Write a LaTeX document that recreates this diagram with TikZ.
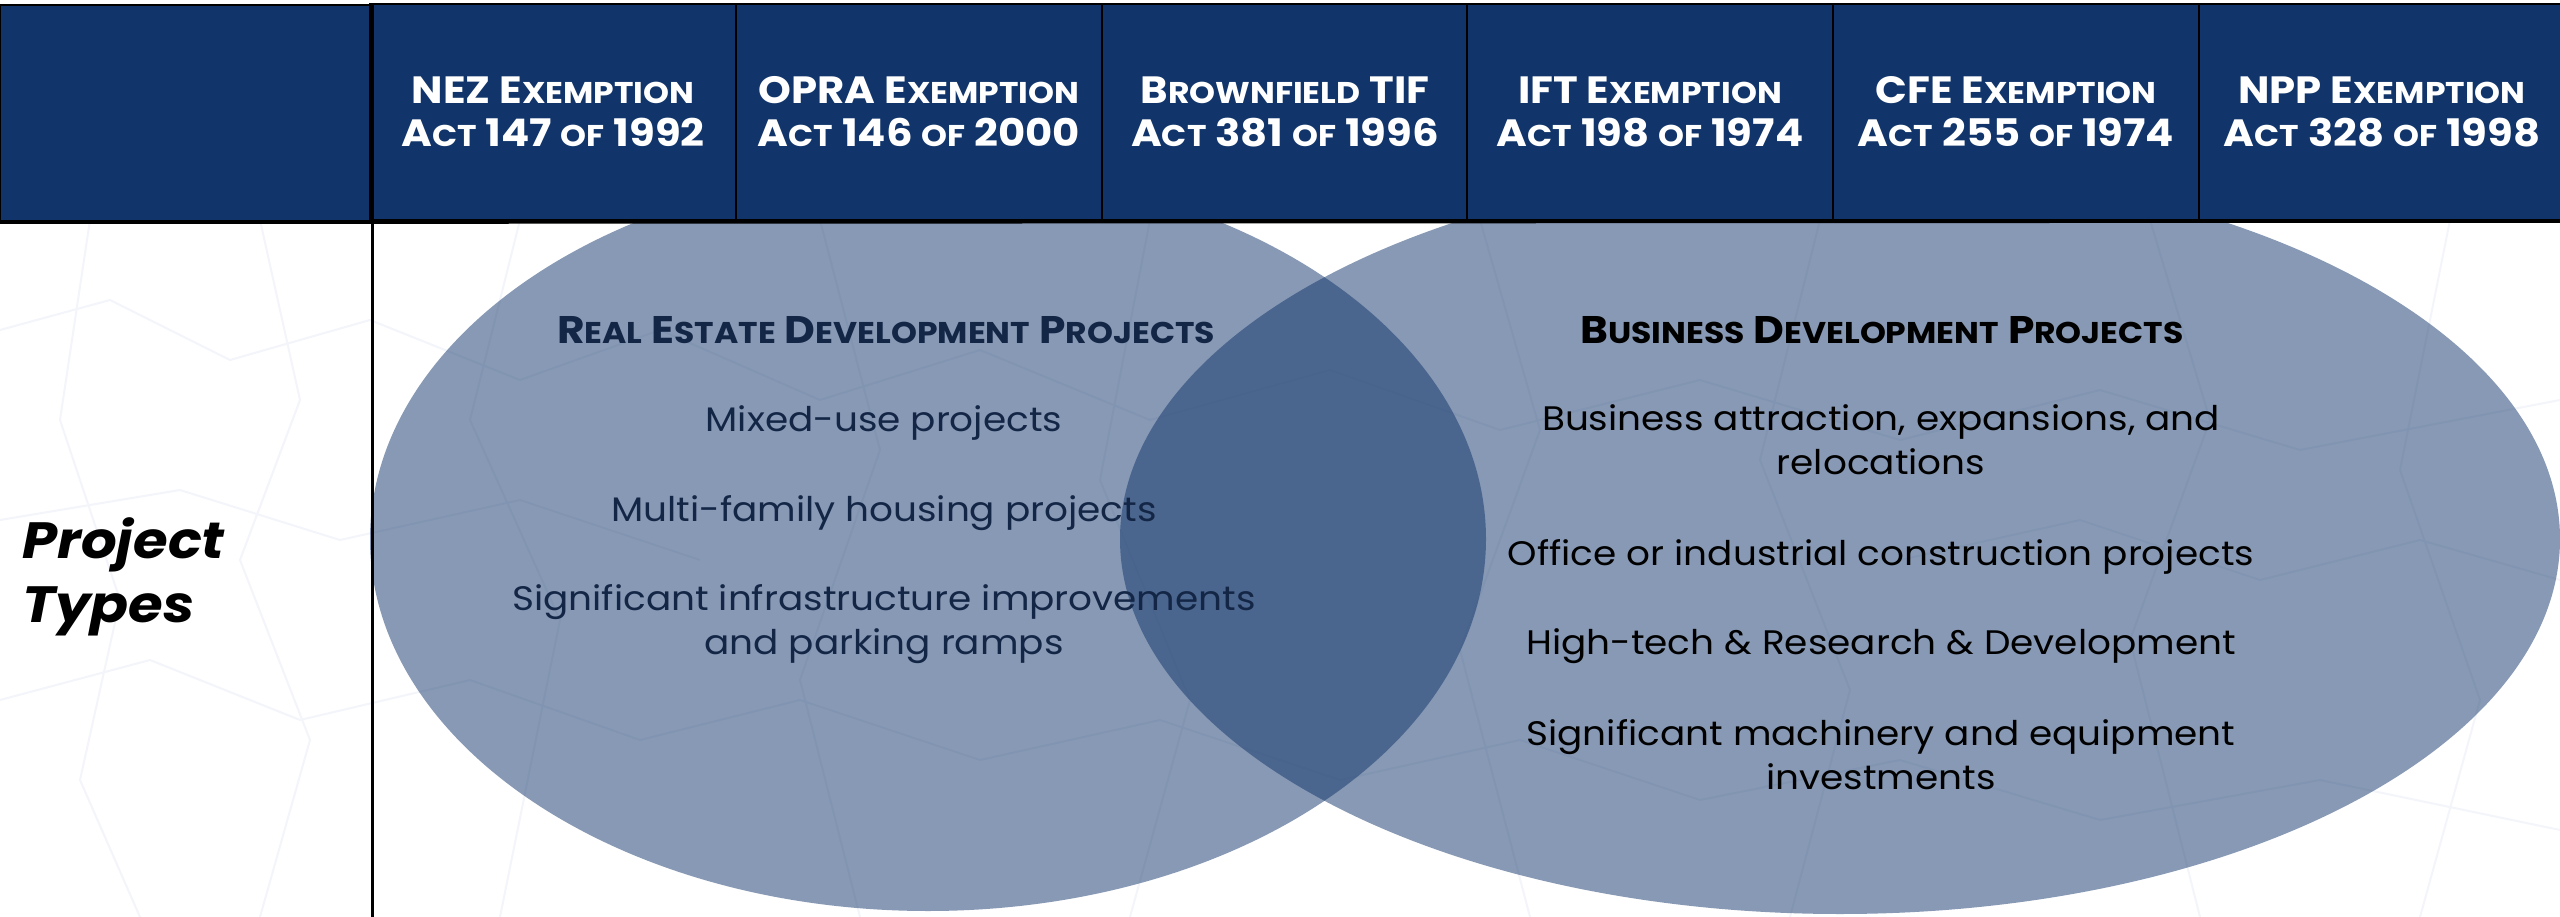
\documentclass[tikz,border=0pt]{standalone}
\usepackage{fontspec}
\setmainfont{Poppins}[FakeStretch=1.1]
\usetikzlibrary{shapes.geometric}
\definecolor{navy}{RGB}{17,53,106}
\definecolor{deepslate}{RGB}{20,38,70}
\definecolor{mapline}{RGB}{243,245,250}
% reduced capitals for the small-caps look
\newcommand{\hs}[1]{{\fontsize{30}{30}\selectfont #1}}
\newcommand{\ts}[1]{{\fontsize{30}{30}\selectfont #1}}

\begin{document}
\begin{tikzpicture}[x=1pt,y=-1pt,
  hcell/.style={draw=black, line width=2.5pt, fill=navy, text=white,
    minimum width=366pt, minimum height=216pt, inner sep=0pt, align=center,
    font=\bfseries\fontsize{38}{43}\selectfont},
  venn/.style={ellipse, fill=navy, fill opacity=0.5, inner sep=0pt},
  item/.style={align=center, font=\fontsize{34}{44}\selectfont},
  vtitle/.style={align=center, font=\bfseries\fontsize{38.5}{38.5}\selectfont},
  rule/.style={draw=black, line width=3pt},
  faint/.style={draw=mapline, line width=2pt, line join=round},
]
\useasboundingbox (0,0) rectangle (2560,917);
\fill[white] (0,0) rectangle (2560,917);

% faint street-map texture in the background
\draw[faint] (0,330) -- (110,300) -- (230,360) -- (370,320) -- (520,380) -- (660,330) -- (820,400) -- (980,350) -- (1150,420) -- (1330,370) -- (1500,430) -- (1700,380) -- (1900,440) -- (2100,390) -- (2300,450) -- (2560,400);
\draw[faint] (0,700) -- (150,660) -- (300,720) -- (470,680) -- (640,740) -- (800,700) -- (980,760) -- (1160,720) -- (1340,780) -- (1520,740) -- (1700,800) -- (1900,760) -- (2100,820) -- (2320,780) -- (2560,830);
\draw[faint] (90,220) -- (60,420) -- (120,600) -- (80,780) -- (140,917);
\draw[faint] (260,220) -- (300,400) -- (240,560) -- (310,740) -- (260,917);
\draw[faint] (520,220) -- (470,420) -- (560,620) -- (500,917);
\draw[faint] (820,220) -- (880,450) -- (800,680) -- (860,917);
\draw[faint] (1150,220) -- (1100,480) -- (1190,700) -- (1130,917);
\draw[faint] (1480,220) -- (1540,430) -- (1460,650) -- (1530,917);
\draw[faint] (1820,220) -- (1760,460) -- (1850,690) -- (1790,917);
\draw[faint] (2150,220) -- (2210,420) -- (2130,640) -- (2200,917);
\draw[faint] (2450,220) -- (2400,470) -- (2480,700) -- (2420,917);
\draw[faint] (0,520) -- (180,490) -- (340,540) -- (520,500) -- (700,560);
\draw[faint] (1900,560) -- (2080,520) -- (2260,580) -- (2420,540) -- (2560,580);

% overlapping project-type ellipses
\node[venn, minimum width=1116pt, minimum height=744pt] (realestate) at (928,539) {};
\node[venn, minimum width=1440pt, minimum height=750pt] (business) at (1840,539) {};

% real estate development projects
\node[vtitle, text=deepslate] (retitle) at (886,330) {R\ts{EAL} E\ts{STATE} D\ts{EVELOPMENT} P\ts{ROJECTS}};
\node[item, text=deepslate] (re1) at (884,423) {Mixed-use projects};
\node[item, text=deepslate] (re2) at (884,513) {Multi-family housing projects};
\node[item, text=deepslate] (re3) at (884,624) {Significant infrastructure improvements\\and parking ramps};

% business development projects
\node[vtitle, text=black] (bdtitle) at (1882,330) {B\ts{USINESS} D\ts{EVELOPMENT} P\ts{ROJECTS}};
\node[item, text=black] (bd1) at (1881,440) {Business attraction, expansions, and\\relocations};
\node[item, text=black] (bd2) at (1881,557) {Office or industrial construction projects};
\node[item, text=black] (bd3) at (1881,646) {High-tech \& Research \& Development};
\node[item, text=black] (bd4) at (1881,755) {Significant machinery and equipment\\investments};

% row label
\node[anchor=west, align=left, inner sep=0pt, font=\bfseries\itshape\fontsize{51}{64}\selectfont] (rowlabel) at (22,577) {Project\\Types};

% header row
\node[hcell, minimum width=372pt, anchor=north west] (corner) at (-2,4) {};
\node[hcell] (nez)  at (553,112)  {NEZ E\hs{XEMPTION}\\A\hs{CT} 147 \hs{OF} 1992};
\node[hcell] (opra) at (919,112)  {OPRA E\hs{XEMPTION}\\A\hs{CT} 146 \hs{OF} 2000};
\node[hcell] (bf)   at (1285,112) {B\hs{ROWNFIELD} TIF\\A\hs{CT} 381 \hs{OF} 1996};
\node[hcell] (ift)  at (1650,112) {IFT E\hs{XEMPTION}\\A\hs{CT} 198 \hs{OF} 1974};
\node[hcell] (cfe)  at (2016,112) {CFE E\hs{XEMPTION}\\A\hs{CT} 255 \hs{OF} 1974};
\node[hcell] (npp)  at (2382,112) {NPP E\hs{XEMPTION}\\A\hs{CT} 328 \hs{OF} 1998};

% table rules
\draw[rule] (corner.north west) -- (corner.south west |- 0,917);
\draw[rule] (corner.north east) -- (corner.north east |- 0,917);
\draw[rule] (corner.south west) -- (npp.south east);
\end{tikzpicture}
\end{document}
